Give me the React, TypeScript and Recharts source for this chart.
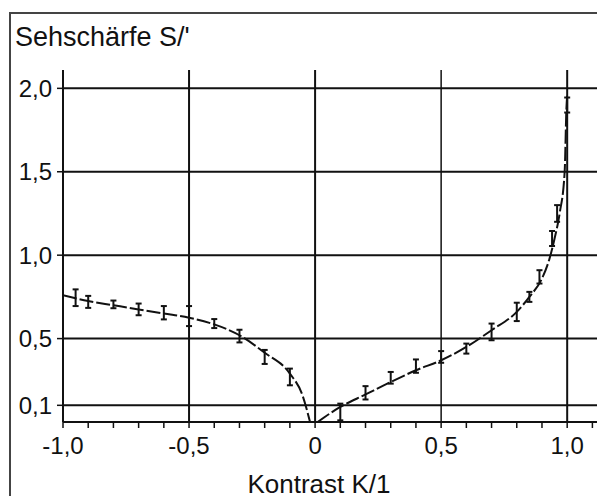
import {
  ComposedChart,
  Line,
  Scatter,
  ErrorBar,
  XAxis,
  YAxis,
  ReferenceLine,
} from "recharts";

// measured points (negative contrast)
const leftK = [-0.95, -0.9, -0.8, -0.7, -0.6, -0.5, -0.4, -0.3, -0.2, -0.1];
const leftS = [0.745, 0.72, 0.705, 0.675, 0.655, 0.635, 0.59, 0.515, 0.39, 0.27];
const leftErr = [0.05, 0.036, 0.023, 0.035, 0.04, 0.06, 0.027, 0.038, 0.042, 0.05];

// measured points (positive contrast)
const rightK = [0.1, 0.2, 0.3, 0.4, 0.5, 0.6, 0.7, 0.8, 0.85, 0.89, 0.94, 0.96, 1.0];
const rightS = [0.06, 0.175, 0.265, 0.335, 0.39, 0.44, 0.54, 0.66, 0.75, 0.87, 1.1, 1.25, 1.9];
const rightErr = [0.05, 0.04, 0.035, 0.04, 0.035, 0.03, 0.05, 0.055, 0.03, 0.04, 0.045, 0.05, 0.045];

// fitted curves
const leftCurveK = [-1.0, -0.9, -0.8, -0.7, -0.6, -0.5, -0.4, -0.3, -0.2, -0.1, -0.05, -0.02];
const leftCurveS = [0.76, 0.725, 0.7, 0.675, 0.65, 0.625, 0.585, 0.52, 0.415, 0.29, 0.16, 0.0];
const rightCurveK = [0.01, 0.1, 0.2, 0.3, 0.4, 0.5, 0.6, 0.7, 0.8, 0.85, 0.9, 0.93, 0.95, 0.97, 0.99, 0.997, 1.0];
const rightCurveS = [0.0, 0.09, 0.165, 0.24, 0.31, 0.37, 0.45, 0.55, 0.66, 0.75, 0.86, 0.98, 1.1, 1.25, 1.5, 1.88, 1.96];

const xTicks = [-1, -0.9, -0.8, -0.7, -0.6, -0.5, -0.4, -0.3, -0.2, -0.1, 0, 0.1, 0.2, 0.3, 0.4, 0.5, 0.6, 0.7, 0.8, 0.9, 1, 1.1];
const xLabeled = [-1, -0.5, 0, 0.5, 1];
const yTicks = [0.1, 0.5, 1.0, 1.5, 2.0];
const xGrid = [-0.5, 0, 0.5, 1];

const zip = (ks: number[], ss: number[], es?: number[]) =>
  ks.map((k, i) => ({ k, s: ss[i], err: es ? es[i] : 0 }));

const leftPts = zip(leftK, leftS, leftErr);
const rightPts = zip(rightK, rightS, rightErr);
const leftCurve = zip(leftCurveK, leftCurveS);
const rightCurve = zip(rightCurveK, rightCurveS);

const fmt = (v: number) => (v === 0 ? "0" : v.toFixed(1).replace(".", ","));
const font = '"Liberation Sans", Arial, sans-serif';
const ink = "#111";
const tick = { fill: ink, fontSize: 24, fontFamily: font };

export default function App() {
  return (
    <div
      style={{
        position: "relative",
        margin: -8,
        width: 605,
        height: 504,
        overflow: "hidden",
        background: "#fff",
        fontFamily: font,
        color: ink,
      }}
    >
      <div
        style={{
          position: "absolute",
          left: 9,
          top: 12,
          width: 700,
          height: 600,
          borderLeft: "2px solid #444",
          borderTop: "2px solid #444",
        }}
      />
      <div style={{ position: "absolute", left: 15, top: 24, fontSize: 27, lineHeight: "27px" }}>
        Sehschärfe S/'
      </div>
      <div
        style={{
          position: "absolute",
          left: 219,
          top: 471,
          width: 200,
          textAlign: "center",
          fontSize: 26,
          lineHeight: "26px",
        }}
      >
        Kontrast K/1
      </div>
      <div style={{ position: "absolute", left: 0, top: 0 }}>
        <ComposedChart width={605} height={504} margin={{ top: 70, right: 0, bottom: 52, left: 8 }}>
          <XAxis
            type="number"
            dataKey="k"
            domain={[-1, 1.15]}
            allowDataOverflow
            ticks={xTicks}
            interval={0}
            tickFormatter={(v: number) => (xLabeled.some((m) => Math.abs(m - v) < 1e-6) ? fmt(v) : "")}
            tick={tick}
            tickSize={6}
            tickMargin={9}
            height={30}
            stroke={ink}
            axisLine={{ stroke: ink, strokeWidth: 2 }}
            tickLine={{ stroke: ink, strokeWidth: 1.5 }}
          />
          <YAxis
            type="number"
            domain={[0, 2.11]}
            allowDataOverflow
            ticks={yTicks}
            interval={0}
            tickFormatter={fmt}
            tick={tick}
            tickSize={6}
            tickMargin={5}
            width={55}
            axisLine={{ stroke: ink, strokeWidth: 2 }}
            tickLine={{ stroke: ink, strokeWidth: 1.5 }}
          />
          {yTicks.map((y) => (
            <ReferenceLine key={"h" + y} y={y} stroke={ink} strokeWidth={2} />
          ))}
          {xGrid.map((x) => (
            <ReferenceLine key={"v" + x} x={x} stroke={ink} strokeWidth={x === 0.5 ? 1.5 : 2} />
          ))}
          <Line
            data={leftCurve}
            dataKey="s"
            type="monotone"
            stroke={ink}
            strokeWidth={2}
            strokeDasharray="14 3"
            dot={false}
            isAnimationActive={false}
          />
          <Line
            data={rightCurve}
            dataKey="s"
            type="monotone"
            stroke={ink}
            strokeWidth={2}
            strokeDasharray="14 3"
            dot={false}
            isAnimationActive={false}
          />
          <Scatter data={leftPts} dataKey="s" shape={() => <g />} isAnimationActive={false}>
            <ErrorBar dataKey="err" direction="y" width={3} stroke={ink} strokeWidth={2} />
          </Scatter>
          <Scatter data={rightPts} dataKey="s" shape={() => <g />} isAnimationActive={false}>
            <ErrorBar dataKey="err" direction="y" width={3} stroke={ink} strokeWidth={2} />
          </Scatter>
        </ComposedChart>
      </div>
    </div>
  );
}
